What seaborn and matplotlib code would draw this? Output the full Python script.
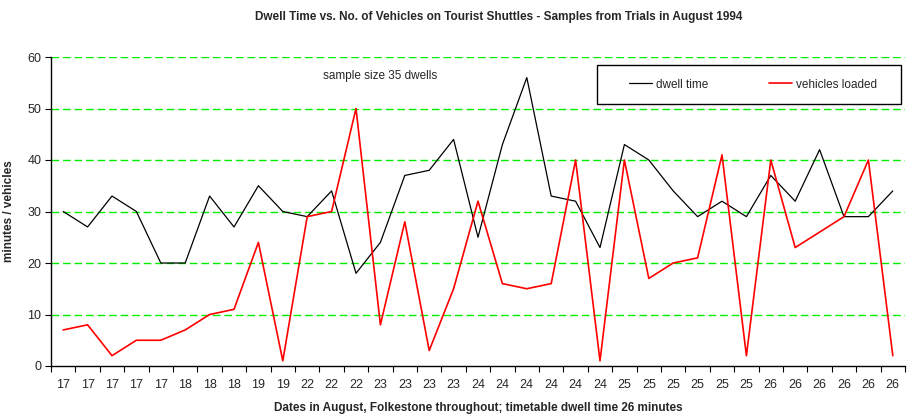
import matplotlib
matplotlib.use("Agg")
import matplotlib.pyplot as plt
import seaborn as sns
import numpy as np
import pandas as pd
from matplotlib.ticker import FixedLocator
from matplotlib.patches import Rectangle

dates = ["17"] * 5 + ["18"] * 3 + ["19"] * 2 + ["22"] * 3 + ["23"] * 4 + ["24"] * 6 + ["25"] * 6 + ["26"] * 6
dwell_time = [30, 27, 33, 30, 20, 20, 33, 27, 35, 30, 29, 34, 18, 24, 37, 38, 44, 25,
              43, 56, 33, 32, 23, 43, 40, 34, 29, 32, 29, 37, 32, 42, 29, 29, 34]
vehicles_loaded = [7, 8, 2, 5, 5, 7, 10, 11, 24, 1, 29, 30, 50, 8, 28, 3, 15, 32,
                   16, 15, 16, 40, 1, 40, 17, 20, 21, 41, 2, 40, 23, 26, 29, 40, 2]

sns.set_theme(style="white")
plt.rcParams['font.family'] = ['Liberation Sans', 'DejaVu Sans']

pos = np.arange(len(dates))
df = pd.DataFrame({"pos": pos, "dwell time": dwell_time, "vehicles loaded": vehicles_loaded})

W, H = 915, 417
AX_L, AX_R, AX_T, AX_B = 51, 905, 57, 366
fig = plt.figure(figsize=(W / 100, H / 100), dpi=100)
ax = fig.add_axes([AX_L / W, 1 - AX_B / H, (AX_R - AX_L) / W, (AX_B - AX_T) / H])

sns.lineplot(data=df, x="pos", y="dwell time", ax=ax, color="black", linewidth=0.9, label="dwell time")
sns.lineplot(data=df, x="pos", y="vehicles loaded", ax=ax, color="red", linewidth=1.2, label="vehicles loaded")

ax.set_xlim(-0.5, len(dates) - 0.5)
ax.set_ylim(0, 60)
ax.set_yticks(range(0, 61, 10))
ax.set_yticklabels([str(v) for v in range(0, 61, 10)], fontsize=9)
ax.set_xticks(pos)
ax.set_xticklabels(dates, fontsize=9)
ax.xaxis.set_minor_locator(FixedLocator(np.arange(-0.5, len(dates), 1.0)))
ax.tick_params(axis="x", which="major", length=0, pad=9)
ax.tick_params(axis="x", which="minor", length=4, width=0.8, color="black", direction="out", bottom=True)
ax.tick_params(axis="y", which="major", length=4, width=0.8, color="black", direction="out", left=True, pad=3)

for v in range(10, 61, 10):
    ax.axhline(v, color="#00ee00", linestyle=(0, (5.5, 2.8)), linewidth=1.0, zorder=0)

for s in ["top", "right"]:
    ax.spines[s].set_visible(False)
for s in ["left", "bottom"]:
    ax.spines[s].set_color("black")
    ax.spines[s].set_linewidth(1.0)

ax.set_xlabel("Dates in August, Folkestone throughout; timetable dwell time 26 minutes",
              fontsize=8.5, fontweight="bold", labelpad=8)
ax.set_ylabel("minutes / vehicles", fontsize=8.5, fontweight="bold")
ax.yaxis.set_label_coords((15 - AX_L) / (AX_R - AX_L), 0.5)
fig.text(499 / W, 1 - 17 / H, "Dwell Time vs. No. of Vehicles on Tourist Shuttles - Samples from Trials in August 1994",
         ha="center", va="center", fontsize=8.5, fontweight="bold")

fig.text(323 / W, 1 - 76 / H, "sample size 35 dwells", ha="left", va="center", fontsize=8.5)

# legend box
lx0, lx1, ly0, ly1 = 597, 901, 65, 104
ax.add_patch(Rectangle((lx0 / W, 1 - ly1 / H), (lx1 - lx0) / W, (ly1 - ly0) / H,
                       transform=fig.transFigure, clip_on=False, fill=True, facecolor="white",
                       edgecolor="black", linewidth=1.0, zorder=5))
leg = ax.legend(loc="center left", bbox_to_anchor=(629 / W, 1 - 84.5 / H), bbox_transform=fig.transFigure,
                ncol=2, frameon=False, fontsize=8.5, handlelength=1.95, handletextpad=0.3,
                borderaxespad=0, borderpad=0, columnspacing=5.2)
leg.set_zorder(6)

fig.savefig("out.png", dpi=100)
